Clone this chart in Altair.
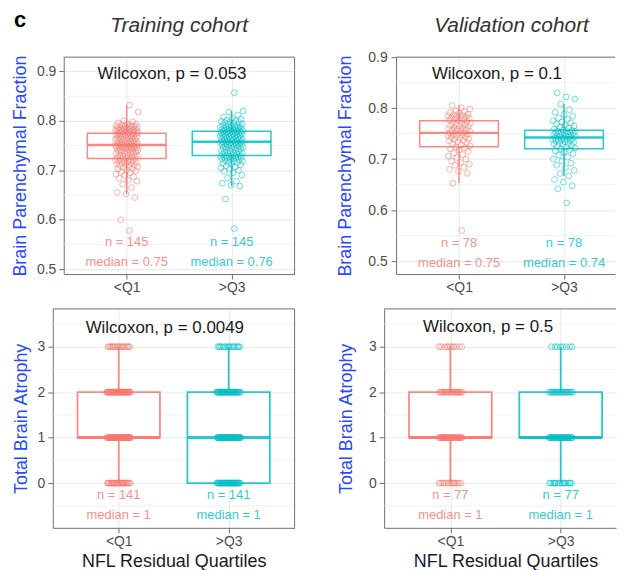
import altair as alt
import pandas as pd

# ---------------- data ----------------
GROUPS = ["<Q1", ">Q3"]
COLORS = ["#F8766D", "#00BFC4"]

# Brain parenchymal fraction, training cohort (n = 145 each)
bpf_train_lowq = [
    0.578, 0.600, 0.645, 0.652, 0.655, 0.665, 0.672, 0.678, 0.680, 0.684, 0.687, 0.690,
    0.692, 0.695, 0.697, 0.699, 0.701, 0.703, 0.704, 0.706, 0.707, 0.708, 0.710, 0.711,
    0.712, 0.713, 0.714, 0.715, 0.716, 0.717, 0.718, 0.719, 0.720, 0.721, 0.722, 0.723,
    0.724, 0.725, 0.726, 0.727, 0.728, 0.729, 0.730, 0.731, 0.732, 0.733, 0.734, 0.735,
    0.736, 0.737, 0.737, 0.738, 0.739, 0.740, 0.741, 0.742, 0.742, 0.743, 0.744, 0.744,
    0.745, 0.746, 0.746, 0.747, 0.747, 0.748, 0.748, 0.749, 0.749, 0.750, 0.750, 0.750,
    0.751,
    0.752, 0.752, 0.753, 0.753, 0.754, 0.755, 0.755, 0.756, 0.757, 0.757, 0.758, 0.759,
    0.760, 0.760, 0.761, 0.762, 0.763, 0.764, 0.764, 0.765, 0.766, 0.767, 0.768, 0.768,
    0.769, 0.770, 0.770, 0.771, 0.772, 0.772, 0.773, 0.773, 0.774, 0.774, 0.775, 0.775,
    0.776, 0.776, 0.777, 0.777, 0.778, 0.778, 0.779, 0.779, 0.780, 0.780, 0.781, 0.781,
    0.782, 0.782, 0.783, 0.783, 0.784, 0.785, 0.785, 0.786, 0.786, 0.787, 0.788, 0.788,
    0.789, 0.790, 0.790, 0.791, 0.792, 0.793, 0.794, 0.796, 0.798, 0.800, 0.818, 0.832,
]
bpf_train_highq = [
    0.582, 0.642, 0.668, 0.670, 0.674, 0.678, 0.684, 0.690, 0.695, 0.698, 0.700, 0.703,
    0.705, 0.707, 0.709, 0.711, 0.713, 0.714, 0.716, 0.717, 0.718, 0.719, 0.720, 0.721,
    0.722, 0.723, 0.724, 0.725, 0.726, 0.726, 0.727, 0.727, 0.728, 0.728, 0.729, 0.729,
    0.730, 0.731, 0.732, 0.733, 0.734, 0.735, 0.736, 0.737, 0.738, 0.739, 0.740, 0.741,
    0.742, 0.743, 0.744, 0.745, 0.745, 0.746, 0.747, 0.748, 0.748, 0.749, 0.750, 0.751,
    0.751, 0.752, 0.753, 0.753, 0.754, 0.755, 0.755, 0.756, 0.756, 0.757, 0.757, 0.758,
    0.758,
    0.759, 0.759, 0.760, 0.761, 0.761, 0.762, 0.763, 0.763, 0.764, 0.765, 0.765, 0.766,
    0.767, 0.767, 0.768, 0.769, 0.769, 0.770, 0.771, 0.771, 0.772, 0.772, 0.773, 0.774,
    0.774, 0.775, 0.775, 0.776, 0.776, 0.777, 0.777, 0.778, 0.778, 0.778, 0.779, 0.779,
    0.780, 0.780, 0.781, 0.781, 0.782, 0.782, 0.783, 0.783, 0.784, 0.784, 0.785, 0.786,
    0.786, 0.787, 0.788, 0.788, 0.789, 0.790, 0.791, 0.792, 0.793, 0.794, 0.795, 0.796,
    0.797, 0.798, 0.799, 0.800, 0.801, 0.803, 0.805, 0.808, 0.812, 0.818, 0.820, 0.857,
]
# Brain parenchymal fraction, validation cohort (n = 78 each)
bpf_valid_lowq = [
    0.560, 0.653, 0.672, 0.676, 0.680, 0.684, 0.688, 0.690, 0.693, 0.696, 0.700, 0.703,
    0.706, 0.709, 0.712, 0.715, 0.718, 0.720, 0.722, 0.724,
    0.726, 0.728, 0.730, 0.732, 0.734, 0.736, 0.737, 0.739, 0.740, 0.741, 0.743, 0.744,
    0.745, 0.746, 0.747, 0.748, 0.749, 0.750, 0.751,
    0.752, 0.754, 0.755, 0.756, 0.757, 0.758, 0.759, 0.760, 0.761, 0.762, 0.764, 0.765,
    0.766, 0.767, 0.768, 0.770, 0.771, 0.772, 0.774,
    0.776, 0.777, 0.778, 0.779, 0.780, 0.781, 0.782, 0.783, 0.784, 0.785, 0.786, 0.787,
    0.788, 0.790, 0.791, 0.793, 0.795, 0.798, 0.801, 0.805,
]
bpf_valid_highq = [
    0.614, 0.642, 0.648, 0.655, 0.660, 0.667, 0.672, 0.678, 0.683, 0.688, 0.692, 0.696,
    0.700, 0.704, 0.708, 0.711, 0.714, 0.716, 0.718, 0.720,
    0.722, 0.724, 0.726, 0.727, 0.729, 0.730, 0.731, 0.732, 0.733, 0.734, 0.735, 0.736,
    0.737, 0.738, 0.739, 0.739, 0.740, 0.741, 0.742,
    0.743, 0.744, 0.745, 0.745, 0.746, 0.747, 0.748, 0.748, 0.749, 0.750, 0.751, 0.751,
    0.752, 0.753, 0.753, 0.754, 0.754, 0.755, 0.756,
    0.757, 0.759, 0.761, 0.763, 0.765, 0.767, 0.769, 0.771, 0.773, 0.775, 0.778, 0.781,
    0.784, 0.788, 0.792, 0.797, 0.808, 0.818, 0.822, 0.830,
]

# Total brain atrophy scores: number of patients with score 0, 1, 2, 3
tba_scores = [0, 1, 2, 3]
tba_train_lowq_counts = [28, 50, 45, 18]   # n = 141
tba_train_highq_counts = [40, 45, 40, 16]  # n = 141
tba_valid_lowq_counts = [14, 30, 22, 11]   # n = 77
tba_valid_highq_counts = [16, 32, 21, 8]   # n = 77

panel_titles = ["Training cohort", "Validation cohort"]
wilcoxon_labels = ["Wilcoxon, p = 0.053", "Wilcoxon, p = 0.1",
                   "Wilcoxon, p = 0.0049", "Wilcoxon, p = 0.5"]
n_labels = [["n = 145", "n = 145"], ["n = 78", "n = 78"],
            ["n = 141", "n = 141"], ["n = 77", "n = 77"]]
median_labels = [["median = 0.75", "median = 0.76"], ["median = 0.75", "median = 0.74"],
                 ["median = 1", "median = 1"], ["median = 1", "median = 1"]]
bpf_ticks = [0.5, 0.6, 0.7, 0.8, 0.9]
bpf_minor = [0.55, 0.65, 0.75, 0.85]
tba_ticks = [0, 1, 2, 3]
tba_minor = [-0.5, 0.5, 1.5, 2.5, 3.5]

# ---------------- style ----------------
FONT = "Liberation Sans"
BLUE = "#2748FF"
FRAME = "#707070"
GRID = "#EBEBEB"
LABEL = "#4D4D4D"


def expand(counts):
    out = []
    for s, c in zip(tba_scores, counts):
        out += [s] * c
    return out


def panel(lowq, highq, *, ydom, yticks, yminor, yfmt, width, height, xmax,
          ytitle, wtext, wx, wy, ntexts, mtexts, ny, my, label_pad, title_pad,
          lw, medw, title=None, xtitle=None, xtitle_x=None, corner=False,
          right_frame=True):
    df = pd.DataFrame({
        "g": [GROUPS[0]] * len(lowq) + [GROUPS[1]] * len(highq),
        "gi": [1] * len(lowq) + [2] * len(highq),
        "v": list(lowq) + list(highq),
    })
    xscale = alt.Scale(domain=[0.4, xmax], nice=False, zero=False)
    yscale = alt.Scale(domain=ydom, nice=False, zero=False)
    xkw = dict(
        values=[1, 2], labelExpr="datum.value == 1 ? '<Q1' : '>Q3'",
        grid=True, gridColor=GRID, gridWidth=1.1,
        domain=True, domainColor=FRAME, domainWidth=1,
        tickColor=FRAME, tickSize=5, tickWidth=1,
        labelColor=LABEL, labelFontSize=14, labelFont=FONT, labelPadding=2,
        title=xtitle, titleColor="#1A1A1A", titleFontSize=18, titleFont=FONT,
        titleFontWeight="normal", titlePadding=4,
    )
    if xtitle_x is not None:
        xkw["titleX"] = xtitle_x
    xaxis = alt.Axis(**xkw)
    yaxis = alt.Axis(
        values=yticks, format=yfmt,
        grid=True, gridColor=GRID, gridWidth=1.1,
        domain=True, domainColor=FRAME, domainWidth=1,
        tickColor=FRAME, tickSize=5, tickWidth=1,
        labelColor=LABEL, labelFontSize=14, labelFont=FONT, labelPadding=label_pad,
        title=ytitle, titleColor=BLUE, titleFontSize=18, titleFont=FONT,
        titleFontWeight="normal", titlePadding=title_pad,
    )

    def X(f):
        return alt.X(f"{f}:Q", scale=xscale, axis=xaxis)

    def Y(f):
        return alt.Y(f"{f}:Q", scale=yscale, axis=yaxis)

    color = alt.Color("g:N", scale=alt.Scale(domain=GROUPS, range=COLORS), legend=None)
    stroke = alt.Stroke("g:N", scale=alt.Scale(domain=GROUPS, range=COLORS), legend=None)

    base = alt.Chart(df)
    minor = alt.Chart(pd.DataFrame({"m": yminor})).mark_rule(
        color=GRID, strokeWidth=0.6).encode(y=Y("m"))

    stats = base.transform_aggregate(
        q1="q1(v)", med="median(v)", q3="q3(v)", groupby=["g", "gi"]
    ).transform_calculate(xl="datum.gi - 0.375", xr="datum.gi + 0.375")
    box = stats.mark_rect(fill="white", strokeWidth=lw, strokeOpacity=0.85).encode(
        x=X("xl"), x2="xr", y=Y("q1"), y2="q3", stroke=stroke)
    med = stats.mark_rule(strokeWidth=medw, opacity=0.85).encode(
        x=X("xl"), x2="xr", y=Y("med"), color=color)

    wh = base.transform_joinaggregate(
        jq1="q1(v)", jq3="q3(v)", groupby=["gi"]
    ).transform_calculate(
        lo="datum.jq1 - 1.5 * (datum.jq3 - datum.jq1)",
        hi="datum.jq3 + 1.5 * (datum.jq3 - datum.jq1)",
    ).transform_filter(
        "datum.v >= datum.lo && datum.v <= datum.hi"
    ).transform_aggregate(
        wmin="min(v)", wmax="max(v)", bq1="max(jq1)", bq3="max(jq3)", groupby=["g", "gi"]
    )
    wlo = wh.mark_rule(strokeWidth=lw, opacity=0.85).encode(
        x=X("gi"), y=Y("wmin"), y2="bq1", color=color)
    whi = wh.mark_rule(strokeWidth=lw, opacity=0.85).encode(
        x=X("gi"), y=Y("bq3"), y2="wmax", color=color)

    pts = base.transform_window(
        rn="row_number()", groupby=["gi"]
    ).transform_calculate(
        jx="datum.gi + (((datum.rn * 0.618034) % 1) - 0.5) * 0.22"
    ).mark_point(shape="circle", filled=False, size=34, strokeWidth=1, opacity=0.55).encode(
        x=X("jx"), y=Y("v"), color=color)

    wil = alt.Chart(pd.DataFrame({"x": [wx], "y": [wy], "t": [wtext]})).mark_text(
        align="left", baseline="middle", fontSize=17, font=FONT, color="#1A1A1A"
    ).encode(x=X("x"), y=Y("y"), text="t:N")

    ann = alt.Chart(pd.DataFrame({
        "gi": [1, 2, 1, 2], "g": GROUPS * 2, "y": [ny, ny, my, my],
        "t": ntexts + mtexts,
    })).mark_text(fontSize=13, font=FONT, baseline="middle", opacity=0.8).encode(
        x=X("gi"), y=Y("y"), text="t:N", color=color)

    one = pd.DataFrame({"a": [0]})
    top = alt.Chart(one).mark_rule(color=FRAME, strokeWidth=1).encode(y=alt.value(0))
    layers = [minor, box, wlo, whi, med, pts, wil, ann, top]
    if right_frame:
        layers.append(alt.Chart(one).mark_rule(color=FRAME, strokeWidth=1).encode(
            x=alt.value(width)))
    if title is not None:
        layers.append(alt.Chart(pd.DataFrame({"t": [title]})).mark_text(
            align="center", baseline="alphabetic", fontSize=21, fontStyle="italic",
            font=FONT, color="#333333").encode(
            x=alt.value(116), y=alt.value(-25), text="t:N"))
    if corner:
        layers.append(alt.Chart(pd.DataFrame({"t": ["c"]})).mark_text(
            align="left", baseline="alphabetic", fontSize=22, fontWeight="bold",
            font=FONT, color="black").encode(
            x=alt.value(-50), y=alt.value(-30), text="t:N"))

    return alt.layer(*layers).properties(width=width, height=height)


tl = panel(bpf_train_lowq, bpf_train_highq, ydom=[0.49, 0.929], yticks=bpf_ticks,
           yminor=bpf_minor, yfmt=".1f", width=232, height=218, xmax=2.6,
           ytitle="Brain Parenchymal Fraction", wtext=wilcoxon_labels[0], wx=0.722, wy=0.895,
           ntexts=n_labels[0], mtexts=median_labels[0], ny=0.554, my=0.514,
           label_pad=3, title_pad=6.5, lw=1.5, medw=2.5, title=panel_titles[0],
           corner=True)
tr = panel(bpf_valid_lowq, bpf_valid_highq, ydom=[0.4746, 0.9], yticks=bpf_ticks,
           yminor=bpf_minor, yfmt=".1f", width=220, height=218, xmax=2.486,
           ytitle="Brain Parenchymal Fraction", wtext=wilcoxon_labels[1], wx=0.741, wy=0.867,
           ntexts=n_labels[1], mtexts=median_labels[1], ny=0.535, my=0.496,
           label_pad=4, title_pad=13, lw=1.5, medw=2.5, title=panel_titles[1],
           right_frame=False)
bl = panel(expand(tba_train_lowq_counts), expand(tba_train_highq_counts),
           ydom=[-0.985, 3.832], yticks=tba_ticks, yminor=tba_minor, yfmt="d",
           width=243, height=220, xmax=2.6, ytitle="Total Brain Atrophy",
           wtext=wilcoxon_labels[2], wx=0.699, wy=3.42,
           ntexts=n_labels[2], mtexts=median_labels[2], ny=-0.26, my=-0.70,
           label_pad=3, title_pad=6.7, lw=1.8, medw=3, xtitle="NFL Residual Quartiles")
br = panel(expand(tba_valid_lowq_counts), expand(tba_valid_highq_counts),
           ydom=[-0.985, 3.832], yticks=tba_ticks, yminor=tba_minor, yfmt="d",
           width=233, height=220, xmax=2.501, ytitle="Total Brain Atrophy",
           wtext=wilcoxon_labels[3], wx=0.752, wy=3.44,
           ntexts=n_labels[3], mtexts=median_labels[3], ny=-0.26, my=-0.70,
           label_pad=3, title_pad=13.5, lw=1.8, medw=3, xtitle="NFL Residual Quartiles",
           xtitle_x=122, right_frame=False)

# a 1-px invisible anchor at the start of each row keeps the two rows'
# axis titles level while the plot areas start where their labels end
anchor = alt.Chart(pd.DataFrame({"a": [0]})).mark_rule(opacity=0).encode(
    x=alt.value(0)).properties(width=1, height=1)

chart = alt.vconcat(
    alt.hconcat(anchor, alt.hconcat(tl, tr, spacing=41), spacing=0),
    alt.hconcat(anchor, alt.hconcat(bl, br, spacing=41), spacing=0),
    spacing=13,
).configure_view(stroke=None).properties(
    padding={"left": 3, "top": 0, "right": 0, "bottom": 0}
)

chart.save("out.html", embed_options={"renderer": "svg", "actions": False})
